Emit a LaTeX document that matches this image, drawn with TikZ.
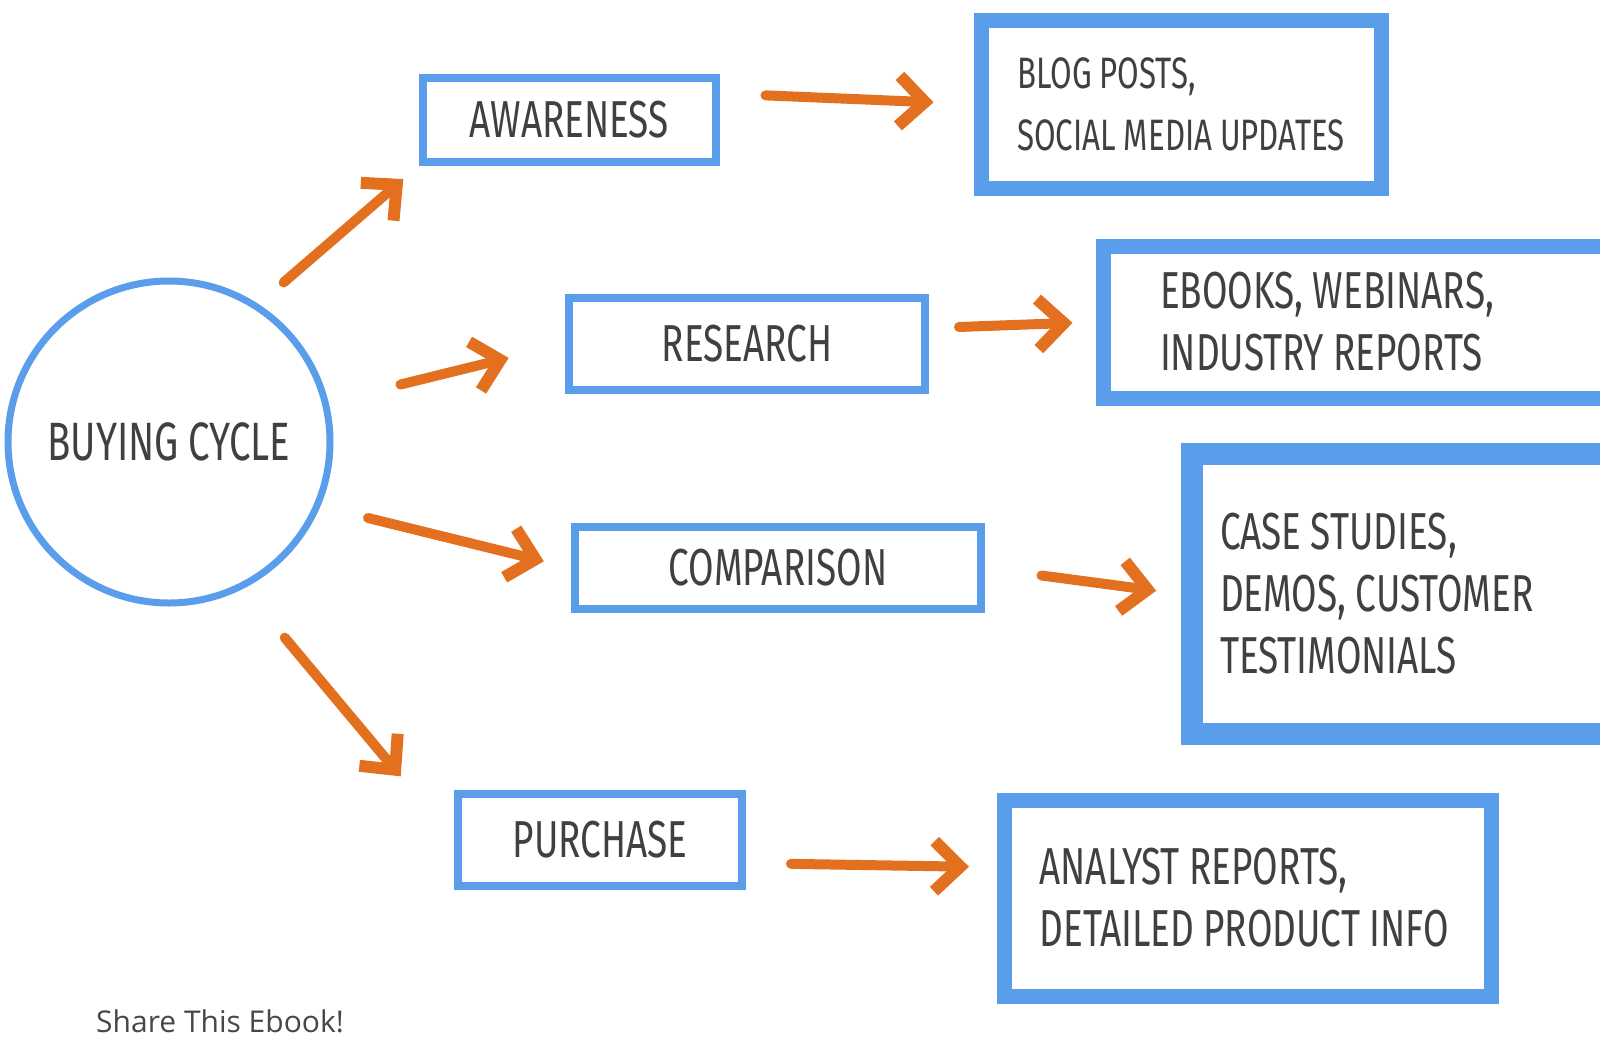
\documentclass[tikz,border=0pt]{standalone}
\usepackage{fontspec}
\usepackage{tikz}
\usetikzlibrary{arrows.meta}
\newfontfamily\hand[FakeStretch=0.71, WordSpace=0.95]{Fira Sans}
\setsansfont{Open Sans}
\hyphenpenalty=10000
\exhyphenpenalty=10000
\frenchspacing
\definecolor{penblue}{HTML}{5A9DEB}
\definecolor{penorange}{HTML}{E2701F}
\definecolor{ink}{HTML}{404040}
\tikzset{
	cyc/.style={circle, draw=penblue, line width=7pt, minimum size=322pt, text=ink, font=\hand\fontsize{54}{60}\selectfont},
	stage/.style={rectangle, draw=penblue, line width=8pt, text=ink, font=\hand\fontsize{52}{60}\selectfont},
	media/.style={rectangle, draw=penblue, line width=15pt, text=ink, align=flush left, inner ysep=0pt, font=\hand\fontsize{52}{62}\selectfont},
	flow/.style={draw=penorange, line width=10pt, line cap=round, line join=round, -{Straight Barb[length=26pt, width=50pt, line width=12pt]}}
}
\begin{document}
\begin{tikzpicture}[x=1pt, y=-1pt]
			%%%%% START %%%%%
			\useasboundingbox (0, 0) rectangle (1600, 1039);
			\clip (0, 0) rectangle (1600, 1039);
			
			\node[cyc] (cycle) at (169, 442) {BUYING CYCLE};
			
			\node[stage, minimum width=293pt, minimum height=84pt] (aware) at (569, 120) {AWARENESS};
			\node[stage, minimum width=356pt, minimum height=92pt] (research) at (747, 344) {RESEARCH};
			\node[stage, minimum width=406pt, minimum height=82pt] (compare) at (778, 568) {COMPARISON};
			\node[stage, minimum width=284pt, minimum height=92pt] (purchase) at (600, 840) {PURCHASE};
			
			\node[media, minimum width=400pt, minimum height=168pt, font=\hand\fontsize{44}{62}\selectfont] (blog) at (1181, 104) {BLOG POSTS,\\SOCIAL MEDIA UPDATES};
			\node[media, minimum height=152pt, text width=446pt, inner xsep=57pt] (ebooks) at (1383, 322) {EBOOKS, WEBINARS,\\INDUSTRY REPORTS};
			\node[media, line width=22pt, minimum height=280pt, text width=404pt, inner xsep=28pt] (cases) at (1422, 594) {CASE STUDIES,\\DEMOS, CUSTOMER\\TESTIMONIALS};
			\node[media, minimum height=196pt, text width=417pt, inner xsep=35pt] (analyst) at (1248, 898) {ANALYST REPORTS,\\DETAILED PRODUCT INFO};
			
			\draw[flow, shorten <=33pt, shorten >=20pt] (cycle.57) -- (aware.south west);
			\draw[flow, shorten <=74pt, shorten >=58pt] (cycle.14) -- (research.west);
			\draw[flow, shorten <=49pt, shorten >=28pt] (cycle.-23) -- (compare.west);
			\draw[flow, shorten <=64pt, shorten >=83pt] (cycle.-63) -- (purchase.west);
			
			\draw[flow, shorten <=46pt, shorten >=40pt] (aware.10) -- (blog.west);
			\draw[flow, shorten <=30pt, shorten >=23pt] (research.5) -- (ebooks.west);
			\draw[flow, shorten <=57pt, shorten >=25pt] (compare.east) -- (cases.west);
			\draw[flow, shorten <=45pt, shorten >=28pt] (purchase.-9) -- (analyst.173);
			
			\node[anchor=base west, text=black!72, font=\sffamily\fontsize{30}{36}\selectfont, inner sep=0pt] (share) at (96, 1032) {Share This Ebook!};
			%%%%% END %%%%%
\end{tikzpicture}
\end{document}
